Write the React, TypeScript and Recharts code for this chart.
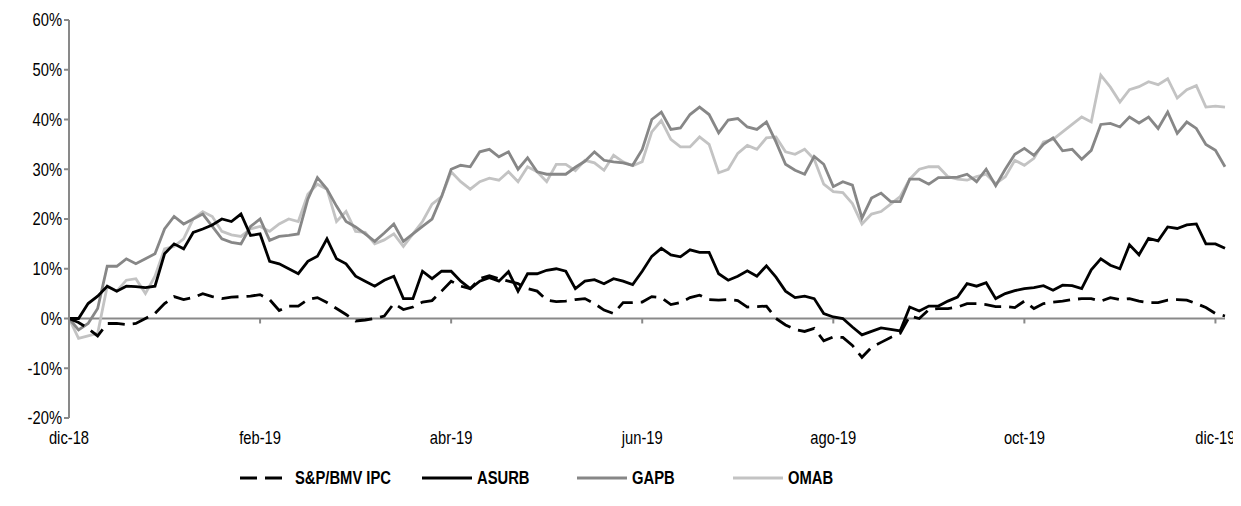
import { LineChart, Line, XAxis, YAxis, ReferenceLine, Legend } from 'recharts';

// time position in months since dic-18 (one point roughly every 3 days)
const months = [
  0, 0.1, 0.2, 0.3, 0.4, 0.5, 0.6, 0.7, 0.8, 0.9,
  1, 1.1, 1.2, 1.3, 1.4, 1.5, 1.6, 1.7, 1.8, 1.9,
  2, 2.1, 2.2, 2.3, 2.4, 2.5, 2.6, 2.7, 2.8, 2.9,
  3, 3.1, 3.2, 3.3, 3.4, 3.5, 3.6, 3.7, 3.8, 3.9,
  4, 4.1, 4.2, 4.3, 4.4, 4.5, 4.6, 4.7, 4.8, 4.9,
  5, 5.1, 5.2, 5.3, 5.4, 5.5, 5.6, 5.7, 5.8, 5.9,
  6, 6.1, 6.2, 6.3, 6.4, 6.5, 6.6, 6.7, 6.8, 6.9,
  7, 7.1, 7.2, 7.3, 7.4, 7.5, 7.6, 7.7, 7.8, 7.9,
  8, 8.1, 8.2, 8.3, 8.4, 8.5, 8.6, 8.7, 8.8, 8.9,
  9, 9.1, 9.2, 9.3, 9.4, 9.5, 9.6, 9.7, 9.8, 9.9,
  10, 10.1, 10.2, 10.3, 10.4, 10.5, 10.6, 10.7, 10.8, 10.9,
  11, 11.1, 11.2, 11.3, 11.4, 11.5, 11.6, 11.7, 11.8, 11.9,
  12, 12.1,
];

const ipc = [
  0, -0.8, -2, -3.5, -1, -1, -1.2, -1, 0, 1,
  3, 4.4, 3.8, 4.2, 5, 4.4, 4, 4.3, 4.4, 4.5,
  4.8, 3.8, 1.6, 2.5, 2.5, 3.8, 4.2, 3.2, 2, 0.8,
  -0.5, -0.3, 0, 0.5, 3, 1.8, 2.3, 3.3, 3.6, 5.5,
  7.5, 6.5, 6, 8, 8.6, 8, 7.5, 7, 6, 5.5,
  3.7, 3.4, 3.5, 3.8, 4, 3, 1.7, 1, 3.2, 3.2,
  3.3, 4.4, 4.2, 2.8, 3.2, 4.2, 4.7, 3.8, 3.7, 3.8,
  3.6, 2.3, 2.4, 2.5, 0, -1.3, -2.2, -2.6, -2, -4.5,
  -3.7, -3.8, -5.4, -7.8, -5.8, -4.8, -3.8, -3, 0.5, 0,
  1.8, 2, 2, 2.3, 3, 3, 2.8, 2.4, 2.4, 2.2,
  3.5, 2, 3, 3.3, 3.5, 3.8, 4, 4, 3.5, 4.2,
  3.8, 4, 3.5, 3.2, 3.2, 3.7, 3.8, 3.7, 3, 2.2,
  1, 0.5,
];

const asurb = [
  0, 0, 3, 4.5, 6.5, 5.5, 6.5, 6.4, 6.2, 6.5,
  13, 15, 14, 17.3, 18, 18.8, 20, 19.5, 21, 16.7,
  17, 11.5, 11, 10, 9, 11.5, 12.5, 16, 12, 11,
  8.5, 7.5, 6.5, 7.7, 8.5, 4, 4, 9.5, 8, 9.5,
  9.5, 7.5, 6, 7.5, 8.2, 7.5, 9.4, 5.5, 9, 9,
  9.7, 10, 9.5, 6, 7.5, 7.8, 7, 8, 7.5, 6.8,
  9.5, 12.5, 14.1, 12.8, 12.4, 13.8, 13.3, 13.3, 9, 7.7,
  8.5, 9.6, 8.5, 10.6, 8.3, 5.5, 4.2, 4.5, 4, 1,
  0.3, 0, -1.7, -3.3, -2.6, -1.9, -2.2, -2.5, 2.3, 1.5,
  2.5, 2.5, 3.5, 4.3, 7, 6.5, 7.2, 4, 5, 5.6,
  6, 6.2, 6.6, 5.7, 6.7, 6.6, 6, 9.8, 12, 10.7,
  10, 14.8, 12.8, 16.1, 15.6, 18.4, 18.1, 18.8, 19, 15,
  15, 14.1,
];

const gapb = [
  0, -2.3, -1, 2, 10.5, 10.5, 12, 11, 12, 13,
  18, 20.5, 19, 20, 21, 18.5, 16, 15.3, 15, 18.5,
  20, 15.7, 16.5, 16.7, 17, 24, 28.3, 26, 22.6, 19.5,
  18.4, 17, 15.5, 17.2, 19, 15.5, 17, 18.5, 20, 24.5,
  30, 30.8, 30.5, 33.5, 34, 32.5, 33.5, 30, 32.3, 29.5,
  29, 29, 29, 30.4, 31.6, 33.5, 31.8, 31.5, 31.3, 30.8,
  34, 40, 41.5, 38, 38.3, 41, 42.5, 41, 37.3, 39.9,
  40.2, 38.5, 38, 39.5, 35.5, 31, 29.8, 29, 32.6, 31,
  26.5, 27.5, 26.8, 20.2, 24.2, 25.2, 23.5, 23.5, 28, 28,
  27, 28.3, 28.3, 28.4, 29, 27.5, 30, 26.7, 30, 33,
  34.2, 32.8, 35, 36.3, 33.7, 34, 32, 33.8, 39, 39.2,
  38.5, 40.5, 39.3, 40.5, 38.2, 41.5, 37.2, 39.5, 38.2, 35,
  33.8, 30.5,
];

const omab = [
  0, -4, -3.5, -3, 6.5, 5.5, 7.7, 8, 5, 8.5,
  14, 14.5, 16, 20, 21.5, 20.5, 17.5, 16.8, 16.5, 18,
  18.5, 17.5, 19, 20, 19.5, 25, 27, 26, 19.5, 21.5,
  17.5, 17.3, 15, 15.8, 17, 14.5, 17, 19.5, 23, 24.5,
  29.5, 27.5, 26, 27.5, 28.2, 27.8, 29.5, 27.5, 30.5, 29.5,
  27.5, 31, 31, 29.7, 31.8, 31.3, 29.8, 32.8, 31.5, 30.7,
  31.5, 37.5, 39.8, 36, 34.5, 34.5, 36.5, 35, 29.3, 30,
  33.2, 34.8, 34, 36.3, 36.5, 33.5, 33, 34, 32, 27,
  25.5, 25.3, 23.1, 19, 21, 21.5, 23, 24.5, 28, 30,
  30.5, 30.5, 28.5, 28, 27.8, 28.5, 29, 27.1, 28.5, 31.8,
  30.8, 32.2, 35.5, 36, 37.5, 39, 40.5, 39.5, 48.9, 46.5,
  43.5, 46, 46.6, 47.6, 47, 48.2, 44.3, 46, 46.8, 42.5,
  42.7, 42.5,
];

const monthTicks = [0, 2, 4, 6, 8, 10, 12];
const monthLabels = ['dic-18', 'feb-19', 'abr-19', 'jun-19', 'ago-19', 'oct-19', 'dic-19'];
const pctTicks = [-20, -10, 0, 10, 20, 30, 40, 50, 60];

const data = months.map((m, i) => ({
  m,
  ipc: ipc[i],
  asurb: asurb[i],
  gapb: gapb[i],
  omab: omab[i],
}));

// no Arial Narrow available: squeeze Liberation Sans horizontally instead
const FONT = "'Liberation Sans', Arial, sans-serif";
const SQUEEZE = 0.82;
const AXIS = '#898989';

const series = [
  { key: 'ipc', name: 'S&P/BMV IPC', color: '#000000', dash: '17 8', left: 232 },
  { key: 'asurb', name: 'ASURB', color: '#000000', dash: undefined, left: 414 },
  { key: 'gapb', name: 'GAPB', color: '#878787', dash: undefined, left: 569 },
  { key: 'omab', name: 'OMAB', color: '#c3c3c3', dash: undefined, left: 725 },
];

function XTick({ x, y, payload }: any) {
  return (
    <g transform={`translate(${x},${y})`}>
      <text transform={`scale(${SQUEEZE},1)`} textAnchor="middle" dy="0.71em" fontFamily={FONT} fontSize={18} fill="#000">
        {monthLabels[monthTicks.indexOf(payload.value)] ?? ''}
      </text>
    </g>
  );
}

function YTick({ x, y, payload }: any) {
  return (
    <g transform={`translate(${x},${y})`}>
      <text transform={`scale(${SQUEEZE},1)`} textAnchor="end" dy="0.355em" fontFamily={FONT} fontSize={18} fill="#000">
        {`${payload.value}%`}
      </text>
    </g>
  );
}

function LegendBox() {
  return (
    <div style={{ position: 'relative', height: 24, fontFamily: FONT }}>
      {series.map((s) => (
        <div
          key={s.key}
          style={{ position: 'absolute', left: s.left, top: 0, height: 24, display: 'flex', alignItems: 'center', whiteSpace: 'nowrap' }}
        >
          <svg width={50} height={24}>
            <line x1={0} y1={12} x2={50} y2={12} stroke={s.color} strokeWidth={3} strokeDasharray={s.dash} />
          </svg>
          <span
            style={{
              marginLeft: 5,
              fontWeight: 700,
              fontSize: 18,
              color: '#000',
              display: 'inline-block',
              transform: `scaleX(${SQUEEZE})`,
              transformOrigin: 'left center',
            }}
          >
            {s.name}
          </span>
        </div>
      ))}
    </div>
  );
}

export default function App() {
  return (
    <LineChart
      width={1233}
      height={490}
      data={data}
      margin={{ top: 12, right: 16, bottom: 8, left: 6 }}
    >
      <XAxis
        dataKey="m"
        type="number"
        domain={[0, 12.1]}
        ticks={monthTicks}
        axisLine={false}
        tickLine={false}
        tickSize={0}
        tickMargin={13}
        height={48}
        interval={0}
        tick={<XTick />}
      />
      <YAxis
        domain={[-20, 60]}
        ticks={pctTicks}
        width={55}
        axisLine={{ stroke: AXIS, strokeWidth: 2 }}
        tickLine={{ stroke: AXIS, strokeWidth: 2 }}
        tickSize={5}
        interval={0}
        tick={<YTick />}
      />
      <ReferenceLine y={0} stroke={AXIS} strokeWidth={2} />
      {monthTicks.map((t) => (
        <ReferenceLine
          key={t}
          segment={[{ x: t, y: 0 }, { x: t, y: -1 }]}
          stroke={AXIS}
          strokeWidth={2}
        />
      ))}
      <Line dataKey="omab" name="OMAB" type="linear" stroke="#c3c3c3" strokeWidth={2.8} dot={false} isAnimationActive={false} />
      <Line dataKey="gapb" name="GAPB" type="linear" stroke="#878787" strokeWidth={2.8} dot={false} isAnimationActive={false} />
      <Line dataKey="asurb" name="ASURB" type="linear" stroke="#000000" strokeWidth={2.8} dot={false} isAnimationActive={false} />
      <Line dataKey="ipc" name="S&P/BMV IPC" type="linear" stroke="#000000" strokeWidth={2.8} strokeDasharray="17 8" dot={false} isAnimationActive={false} />
      <Legend
        verticalAlign="bottom"
        content={() => <LegendBox />}
        wrapperStyle={{ left: 0, width: 1233, height: 24 }}
      />
    </LineChart>
  );
}
